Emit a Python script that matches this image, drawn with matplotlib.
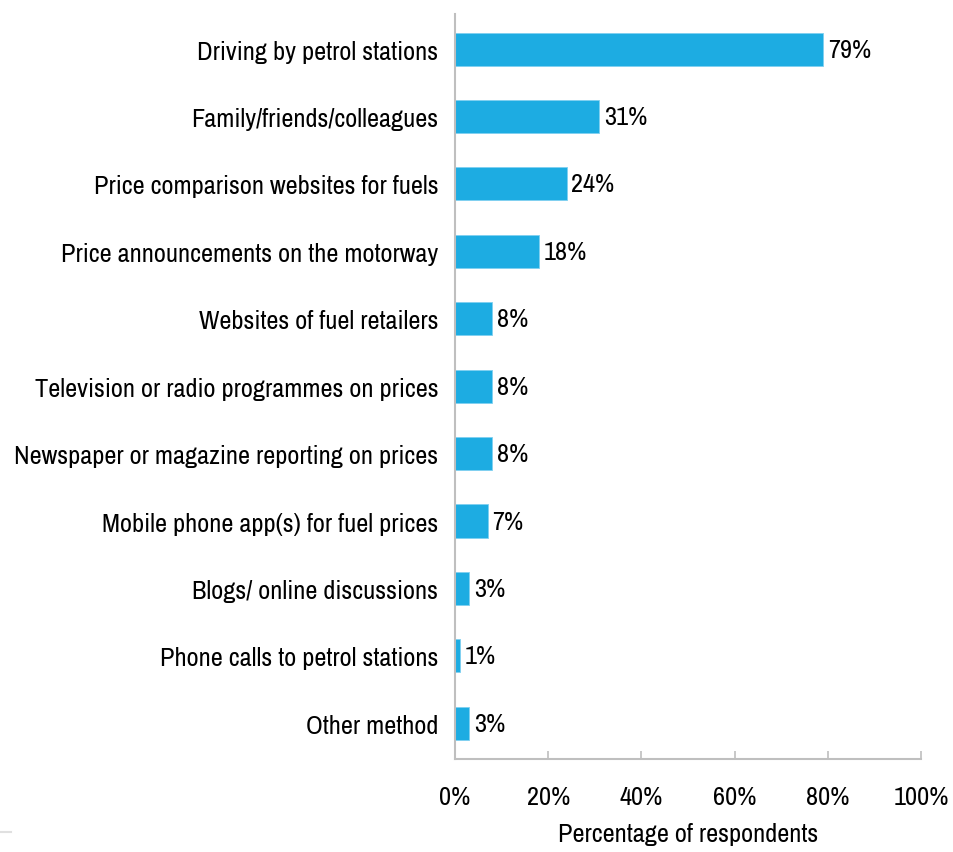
import matplotlib.pyplot as plt
from matplotlib.lines import Line2D
from matplotlib.ticker import FuncFormatter

plt.rcParams['font.family'] = ['Archivo Narrow', 'Liberation Sans', 'DejaVu Sans']

# Survey: how respondents find out about fuel prices
methods = [
    'Driving by petrol stations',
    'Family/friends/colleagues',
    'Price comparison websites for fuels',
    'Price announcements on the motorway',
    'Websites of fuel retailers',
    'Television or radio programmes on prices',
    'Newspaper or magazine reporting on prices',
    'Mobile phone app(s) for fuel prices',
    'Blogs/ online discussions',
    'Phone calls to petrol stations',
    'Other method',
]
shares = [79, 31, 24, 18, 8, 8, 8, 7, 3, 1, 3]
xticks = [0, 20, 40, 60, 80, 100]

bar_color = '#1DACE2'
axis_color = '#BFBFBF'
fs = 19

fig = plt.figure(figsize=(9.54, 8.53), dpi=100)
ax = fig.add_axes([455 / 954, 93 / 853, 466 / 954, 745 / 853])

pos = list(range(len(methods)))
ax.barh(pos, shares, height=0.49, color=bar_color, edgecolor='#7FD0F0', linewidth=0.6)

for p, v in zip(pos, shares):
    ax.text(v + 1.0, p, f'{v}%', va='center', ha='left', fontsize=fs)

ax.set_xlim(0, 100)
ax.set_ylim(10.53, -0.52)
ax.set_yticks(pos)
ax.set_yticklabels(methods, fontsize=fs)
ax.set_xticks(xticks)
ax.xaxis.set_major_formatter(FuncFormatter(lambda x, _: f'{x:.0f}%'))
ax.tick_params(axis='x', direction='in', length=6, width=1.2, color=axis_color,
               labelsize=fs, pad=19)
ax.tick_params(axis='y', length=0, pad=12)
ax.set_xlabel('Percentage of respondents', fontsize=fs, labelpad=10)

for side in ['top', 'right']:
    ax.spines[side].set_visible(False)
for side in ['left', 'bottom']:
    ax.spines[side].set_color(axis_color)
    ax.spines[side].set_linewidth(1.5)

# short grey rule at the lower left edge
fig.add_artist(Line2D([0, 11 / 954], [1 - 833 / 853] * 2, color='#E0E0E0', lw=1.5,
                      transform=fig.transFigure))

fig.savefig('out.png', dpi=100)
